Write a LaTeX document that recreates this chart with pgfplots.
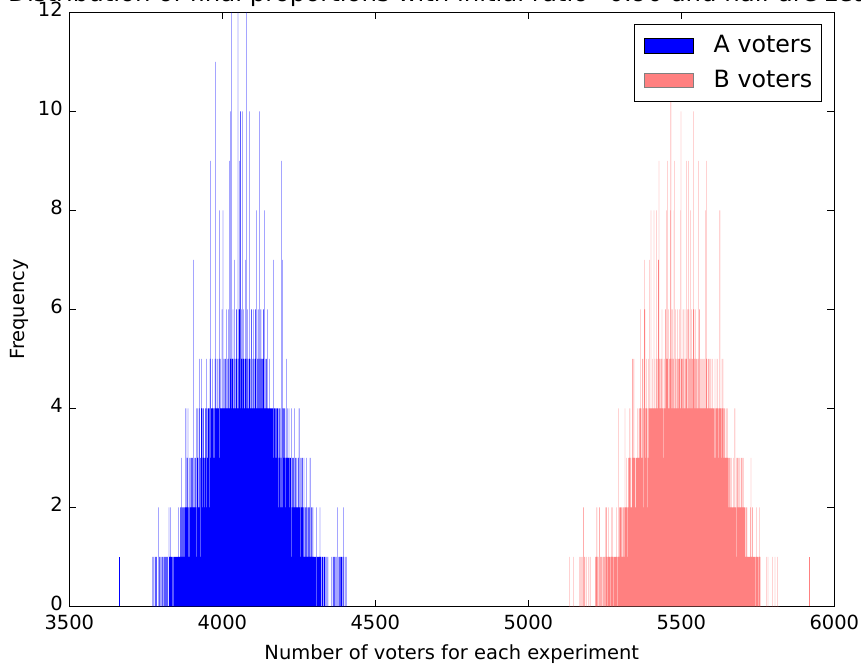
\documentclass[border=0pt]{standalone}
\usepackage{fontspec}
\setmainfont{DejaVu Sans}
\usepackage{pgfplots}
\usepackage{pgfplotstable}
\pgfplotsset{compat=1.18}
\definecolor{bcol}{HTML}{FF8080}
\pgfplotstableread[row sep=\\]{
y\\
1\\ 0\\ 0\\ 1\\ 0\\ 0\\ 0\\ 0\\ 1\\ 0\\
0\\ 1\\ 0\\ 0\\ 1\\ 0\\ 0\\ 0\\ 0\\ 2\\
0\\ 0\\ 1\\ 1\\ 0\\ 0\\ 1\\ 0\\ 0\\ 0\\
1\\ 0\\ 0\\ 1\\ 0\\ 1\\ 0\\ 0\\ 1\\ 0\\
0\\ 1\\ 1\\ 0\\ 0\\ 1\\ 0\\ 1\\ 0\\ 0\\
1\\ 0\\ 0\\ 0\\ 2\\ 1\\ 0\\ 1\\ 0\\ 2\\
1\\ 0\\ 1\\ 1\\ 0\\ 1\\ 0\\ 1\\ 1\\ 0\\
1\\ 1\\ 0\\ 1\\ 0\\ 1\\ 1\\ 0\\ 1\\ 0\\
1\\ 1\\ 1\\ 0\\ 1\\ 2\\ 1\\ 1\\ 0\\ 1\\
1\\ 2\\ 1\\ 1\\ 3\\ 1\\ 2\\ 1\\ 1\\ 2\\
2\\ 1\\ 1\\ 2\\ 1\\ 2\\ 1\\ 2\\ 1\\ 4\\
1\\ 2\\ 2\\ 3\\ 1\\ 2\\ 4\\ 2\\ 1\\ 2\\
3\\ 2\\ 1\\ 2\\ 3\\ 2\\ 1\\ 3\\ 2\\ 1\\
2\\ 3\\ 1\\ 2\\ 2\\ 7\\ 2\\ 3\\ 1\\ 2\\
3\\ 2\\ 2\\ 4\\ 2\\ 1\\ 3\\ 2\\ 4\\ 2\\
2\\ 3\\ 4\\ 2\\ 5\\ 3\\ 2\\ 3\\ 1\\ 4\\
3\\ 5\\ 2\\ 3\\ 4\\ 2\\ 3\\ 4\\ 2\\ 3\\
3\\ 2\\ 3\\ 4\\ 3\\ 4\\ 2\\ 5\\ 3\\ 4\\
3\\ 2\\ 4\\ 3\\ 4\\ 2\\ 4\\ 3\\ 5\\ 3\\
9\\ 3\\ 4\\ 2\\ 4\\ 3\\ 4\\ 5\\ 3\\ 4\\
4\\ 3\\ 4\\ 3\\ 5\\ 4\\ 11\\ 4\\ 3\\ 4\\
4\\ 5\\ 3\\ 4\\ 4\\ 3\\ 4\\ 5\\ 4\\ 8\\
3\\ 4\\ 4\\ 5\\ 3\\ 4\\ 4\\ 6\\ 4\\ 4\\
8\\ 4\\ 4\\ 3\\ 5\\ 4\\ 4\\ 4\\ 5\\ 3\\
4\\ 4\\ 6\\ 4\\ 3\\ 5\\ 4\\ 4\\ 6\\ 4\\
5\\ 9\\ 4\\ 4\\ 10\\ 4\\ 5\\ 4\\ 12\\ 4\\
4\\ 5\\ 4\\ 6\\ 4\\ 4\\ 5\\ 4\\ 7\\ 4\\
4\\ 4\\ 5\\ 4\\ 6\\ 4\\ 5\\ 4\\ 4\\ 12\\
5\\ 4\\ 4\\ 6\\ 4\\ 9\\ 5\\ 10\\ 4\\ 4\\
6\\ 4\\ 5\\ 4\\ 4\\ 10\\ 5\\ 4\\ 6\\ 4\\
5\\ 4\\ 4\\ 7\\ 4\\ 5\\ 4\\ 4\\ 12\\ 5\\
4\\ 6\\ 4\\ 5\\ 4\\ 4\\ 5\\ 4\\ 10\\ 4\\
4\\ 5\\ 4\\ 6\\ 4\\ 4\\ 5\\ 4\\ 4\\ 5\\
6\\ 4\\ 4\\ 5\\ 4\\ 4\\ 6\\ 5\\ 4\\ 4\\
8\\ 4\\ 4\\ 5\\ 4\\ 6\\ 4\\ 4\\ 5\\ 10\\
4\\ 5\\ 4\\ 4\\ 6\\ 4\\ 5\\ 4\\ 4\\ 5\\
4\\ 4\\ 5\\ 6\\ 4\\ 4\\ 8\\ 4\\ 4\\ 5\\
4\\ 4\\ 5\\ 4\\ 4\\ 3\\ 6\\ 4\\ 4\\ 4\\
3\\ 4\\ 4\\ 5\\ 3\\ 4\\ 4\\ 3\\ 4\\ 4\\
4\\ 3\\ 4\\ 4\\ 3\\ 7\\ 4\\ 3\\ 4\\ 4\\
3\\ 4\\ 4\\ 3\\ 2\\ 4\\ 3\\ 4\\ 4\\ 3\\
4\\ 3\\ 2\\ 4\\ 3\\ 4\\ 3\\ 2\\ 4\\ 3\\
3\\ 2\\ 9\\ 4\\ 3\\ 7\\ 2\\ 4\\ 3\\ 2\\
4\\ 3\\ 2\\ 4\\ 3\\ 2\\ 3\\ 5\\ 2\\ 3\\
2\\ 3\\ 4\\ 2\\ 3\\ 2\\ 4\\ 3\\ 2\\ 3\\
3\\ 2\\ 3\\ 1\\ 2\\ 4\\ 2\\ 3\\ 2\\ 1\\
2\\ 3\\ 2\\ 2\\ 4\\ 1\\ 2\\ 3\\ 2\\ 3\\
2\\ 1\\ 3\\ 2\\ 1\\ 2\\ 3\\ 2\\ 1\\ 4\\
2\\ 1\\ 2\\ 3\\ 1\\ 2\\ 1\\ 2\\ 3\\ 1\\
3\\ 1\\ 2\\ 1\\ 2\\ 3\\ 1\\ 1\\ 2\\ 1\\
1\\ 2\\ 1\\ 3\\ 1\\ 2\\ 1\\ 0\\ 2\\ 1\\
2\\ 1\\ 1\\ 2\\ 1\\ 3\\ 1\\ 0\\ 1\\ 2\\
1\\ 0\\ 1\\ 1\\ 2\\ 1\\ 0\\ 1\\ 1\\ 0\\
1\\ 1\\ 0\\ 1\\ 0\\ 1\\ 2\\ 0\\ 1\\ 1\\
0\\ 1\\ 1\\ 0\\ 1\\ 0\\ 1\\ 2\\ 0\\ 1\\
1\\ 0\\ 1\\ 0\\ 0\\ 1\\ 1\\ 0\\ 1\\ 0\\
0\\ 1\\ 0\\ 1\\ 0\\ 0\\ 1\\ 0\\ 1\\ 0\\
0\\ 0\\ 0\\ 1\\ 0\\ 0\\ 0\\ 0\\ 0\\ 0\\
0\\ 0\\ 0\\ 0\\ 0\\ 1\\ 0\\ 0\\ 0\\ 0\\
1\\ 0\\ 1\\ 0\\ 0\\ 1\\ 0\\ 1\\ 0\\ 0\\
0\\ 1\\ 0\\ 0\\ 0\\ 2\\ 0\\ 1\\ 0\\ 0\\
1\\ 0\\ 0\\ 1\\ 0\\ 0\\ 1\\ 0\\ 1\\ 0\\
0\\ 1\\ 0\\ 0\\ 2\\ 0\\ 1\\ 0\\ 0\\ 0\\
1\\ 0\\ 0\\ 1\\
}\Adata
\pgfplotstableread[row sep=\\]{
y\\
1\\ 0\\ 0\\ 0\\ 0\\ 0\\ 0\\ 0\\ 0\\ 0\\
0\\ 0\\ 0\\ 1\\ 0\\ 0\\ 0\\ 0\\ 0\\ 0\\
0\\ 0\\ 0\\ 0\\ 0\\ 0\\ 0\\ 0\\ 0\\ 0\\
0\\ 0\\ 0\\ 1\\ 0\\ 0\\ 1\\ 0\\ 0\\ 1\\
0\\ 0\\ 1\\ 0\\ 0\\ 0\\ 2\\ 0\\ 0\\ 1\\
0\\ 1\\ 0\\ 0\\ 0\\ 0\\ 1\\ 0\\ 0\\ 0\\
0\\ 0\\ 0\\ 1\\ 0\\ 0\\ 0\\ 0\\ 1\\ 0\\
0\\ 0\\ 0\\ 0\\ 0\\ 0\\ 0\\ 0\\ 0\\ 0\\
0\\ 0\\ 0\\ 0\\ 0\\ 0\\ 1\\ 0\\ 1\\ 0\\
2\\ 0\\ 1\\ 0\\ 0\\ 0\\ 1\\ 0\\ 0\\ 2\\
0\\ 1\\ 0\\ 0\\ 1\\ 0\\ 0\\ 1\\ 0\\ 0\\
1\\ 0\\ 0\\ 1\\ 0\\ 1\\ 0\\ 0\\ 1\\ 2\\
1\\ 0\\ 2\\ 1\\ 0\\ 1\\ 0\\ 2\\ 1\\ 0\\
1\\ 1\\ 0\\ 1\\ 1\\ 0\\ 1\\ 1\\ 2\\ 1\\
1\\ 2\\ 1\\ 1\\ 0\\ 1\\ 1\\ 1\\ 0\\ 1\\
1\\ 1\\ 0\\ 1\\ 2\\ 1\\ 1\\ 0\\ 1\\ 1\\
4\\ 1\\ 1\\ 2\\ 1\\ 1\\ 2\\ 1\\ 2\\ 1\\
1\\ 2\\ 1\\ 1\\ 2\\ 1\\ 2\\ 1\\ 1\\ 2\\
1\\ 2\\ 4\\ 1\\ 2\\ 1\\ 3\\ 1\\ 2\\ 1\\
2\\ 1\\ 2\\ 3\\ 1\\ 2\\ 3\\ 2\\ 4\\ 2\\
1\\ 3\\ 2\\ 2\\ 1\\ 3\\ 2\\ 5\\ 2\\ 3\\
2\\ 5\\ 3\\ 2\\ 3\\ 2\\ 1\\ 3\\ 2\\ 3\\
3\\ 2\\ 3\\ 2\\ 4\\ 2\\ 3\\ 2\\ 3\\ 4\\
2\\ 3\\ 6\\ 4\\ 2\\ 3\\ 2\\ 4\\ 3\\ 5\\
3\\ 5\\ 2\\ 4\\ 3\\ 7\\ 3\\ 6\\ 4\\ 2\\
3\\ 4\\ 2\\ 5\\ 3\\ 4\\ 2\\ 3\\ 5\\ 4\\
3\\ 4\\ 4\\ 7\\ 3\\ 4\\ 4\\ 8\\ 3\\ 4\\
4\\ 4\\ 3\\ 5\\ 4\\ 3\\ 4\\ 8\\ 4\\ 3\\
5\\ 4\\ 4\\ 3\\ 8\\ 4\\ 4\\ 5\\ 3\\ 4\\
4\\ 7\\ 4\\ 9\\ 4\\ 3\\ 5\\ 4\\ 4\\ 4\\
5\\ 4\\ 3\\ 6\\ 4\\ 4\\ 5\\ 4\\ 4\\ 3\\
4\\ 4\\ 5\\ 4\\ 6\\ 4\\ 4\\ 8\\ 5\\ 4\\
9\\ 4\\ 5\\ 4\\ 6\\ 4\\ 4\\ 5\\ 4\\ 4\\
5\\ 8\\ 11\\ 4\\ 4\\ 5\\ 6\\ 4\\ 4\\ 5\\
4\\ 5\\ 8\\ 9\\ 4\\ 4\\ 5\\ 6\\ 4\\ 4\\
5\\ 4\\ 4\\ 6\\ 4\\ 5\\ 4\\ 4\\ 5\\ 4\\
6\\ 5\\ 4\\ 4\\ 8\\ 10\\ 4\\ 5\\ 4\\ 4\\
5\\ 4\\ 6\\ 4\\ 4\\ 5\\ 4\\ 4\\ 6\\ 4\\
4\\ 5\\ 4\\ 9\\ 5\\ 4\\ 4\\ 6\\ 5\\ 9\\
4\\ 6\\ 4\\ 5\\ 4\\ 8\\ 5\\ 4\\ 4\\ 5\\
6\\ 4\\ 5\\ 4\\ 5\\ 10\\ 4\\ 6\\ 5\\ 4\\
4\\ 5\\ 4\\ 6\\ 4\\ 4\\ 5\\ 4\\ 4\\ 4\\
5\\ 4\\ 9\\ 4\\ 5\\ 6\\ 4\\ 4\\ 5\\ 4\\
4\\ 4\\ 5\\ 4\\ 4\\ 5\\ 4\\ 4\\ 5\\ 4\\
4\\ 4\\ 5\\ 4\\ 4\\ 8\\ 4\\ 4\\ 5\\ 9\\
4\\ 4\\ 4\\ 5\\ 4\\ 4\\ 5\\ 4\\ 4\\ 5\\
5\\ 4\\ 4\\ 5\\ 4\\ 4\\ 4\\ 4\\ 3\\ 5\\
4\\ 3\\ 4\\ 4\\ 3\\ 4\\ 5\\ 3\\ 4\\ 3\\
4\\ 3\\ 4\\ 5\\ 3\\ 4\\ 3\\ 4\\ 3\\ 4\\
3\\ 4\\ 8\\ 3\\ 4\\ 3\\ 4\\ 3\\ 4\\ 5\\
3\\ 4\\ 5\\ 3\\ 4\\ 2\\ 3\\ 4\\ 3\\ 4\\
3\\ 2\\ 3\\ 4\\ 2\\ 3\\ 2\\ 3\\ 4\\ 2\\
3\\ 2\\ 3\\ 2\\ 3\\ 2\\ 2\\ 3\\ 2\\ 2\\
2\\ 3\\ 2\\ 2\\ 1\\ 2\\ 3\\ 2\\ 2\\ 1\\
2\\ 4\\ 2\\ 1\\ 2\\ 2\\ 1\\ 3\\ 2\\ 2\\
3\\ 2\\ 1\\ 3\\ 2\\ 2\\ 3\\ 2\\ 1\\ 2\\
2\\ 3\\ 2\\ 1\\ 3\\ 2\\ 1\\ 2\\ 3\\ 2\\
1\\ 2\\ 1\\ 2\\ 1\\ 1\\ 2\\ 1\\ 2\\ 1\\
1\\ 2\\ 1\\ 1\\ 0\\ 1\\ 1\\ 1\\ 0\\ 1\\
1\\ 1\\ 2\\ 0\\ 3\\ 1\\ 1\\ 0\\ 1\\ 2\\
1\\ 1\\ 0\\ 1\\ 1\\ 0\\ 1\\ 1\\ 0\\ 1\\
0\\ 1\\ 2\\ 1\\ 0\\ 1\\ 1\\ 0\\ 1\\ 1\\
0\\ 2\\ 1\\ 0\\ 0\\ 1\\ 0\\ 0\\ 0\\ 0\\
0\\ 0\\ 0\\ 0\\ 0\\ 0\\ 0\\ 0\\ 0\\ 0\\
0\\ 0\\ 0\\ 0\\ 0\\ 1\\ 0\\ 0\\ 0\\ 1\\
0\\ 0\\ 0\\ 0\\ 0\\ 0\\ 0\\ 0\\ 0\\ 0\\
0\\ 0\\ 0\\ 0\\ 1\\ 0\\ 0\\ 0\\ 0\\ 0\\
0\\ 0\\ 1\\ 0\\ 0\\ 0\\ 0\\ 0\\ 0\\ 0\\
0\\ 1\\ 0\\ 0\\ 0\\ 0\\ 0\\
}\Bdata
\newcommand{\tickfont}{\fontsize{14.6}{17}\selectfont}
\newcommand{\bigfont}{\fontsize{17.8}{21}\selectfont}
\newcommand{\titlefont}{\fontsize{18.3}{21}\selectfont}
\begin{document}
\begin{tikzpicture}
\begin{axis}[
  at={(0,0)}, anchor=south west,
  scale only axis, width=573.75pt, height=445.5pt,
  xmin=3500, xmax=6000, ymin=0, ymax=12,
  xtick={3500,4000,4500,5000,5500,6000},
  ytick={0,2,4,6,8,10,12},
  minor tick num=0,
  tick align=inside,
  major tick length=5.2pt,
  tick style={black, line width=0.8pt},
  axis line style={black, line width=0.9pt},
  scaled ticks=false,
  /pgf/number format/1000 sep={},
  /pgf/number format/assume math mode=true,
  tick label style={font=\tickfont},
  xticklabel style={anchor=north, inner sep=0pt, yshift=-6.4pt},
  yticklabel style={anchor=east, inner sep=0pt, xshift=-4.7pt, yshift=2.2pt},
  xlabel={Number of voters for each experiment},
  ylabel={Frequency},
  every axis x label/.style={at={([yshift=-28.5pt]axis description cs:0.5,0)}, anchor=north, inner sep=0pt, font=\tickfont},
  every axis y label/.style={at={([xshift=-37.1pt]axis description cs:0,0.5)}, rotate=90, anchor=center, inner sep=0pt, font=\tickfont},
  title={Distribution of final proportions with initial ratio=0.90 and half are zealots},
  title style={at={([xshift=-46pt,yshift=2.6pt]axis description cs:0,1)}, anchor=base west, inner sep=0pt, font=\titlefont},
  legend image code/.code={\draw[#1] (0pt,-5.6pt) rectangle (36.75pt,5.6pt);},
  legend cell align=left,
  legend style={at={([xshift=-9.2pt,yshift=-8.9pt]axis description cs:1,1)}, anchor=north east,
    draw=black, line width=0.8pt, fill=white, font=\bigfont,
    inner xsep=7pt, inner ysep=7.8pt, row sep=10.3pt,
    nodes={inner sep=0pt, text depth=2.7pt},
    /tikz/every odd column/.append style={column sep=14.8pt}},
]
\addplot[ybar, bar width=1, bar shift=0pt, fill=blue, draw=none, forget plot]
  table[x expr=\coordindex+3772, y=y] {\Adata};
\addplot[ybar, bar width=1, bar shift=0pt, fill=blue, draw=none, forget plot]
  coordinates {(3663,1)};
\addplot[ybar, bar width=1, bar shift=0pt, fill=bcol, draw=none, forget plot]
  table[x expr=\coordindex+5134, y=y] {\Bdata};
\addplot[ybar, bar width=1, bar shift=0pt, fill=bcol, draw=none, forget plot]
  coordinates {(5917,1)};
\addlegendimage{fill=blue, draw=black, line width=0.6pt}
\addlegendentry{A voters}
\addlegendimage{fill=bcol, draw=black!50, line width=0.6pt}
\addlegendentry{B voters}
\end{axis}
\pgfresetboundingbox
\useasboundingbox (-51.975pt,-44.625pt) rectangle (593.775pt,454.875pt);
\end{tikzpicture}
\end{document}
